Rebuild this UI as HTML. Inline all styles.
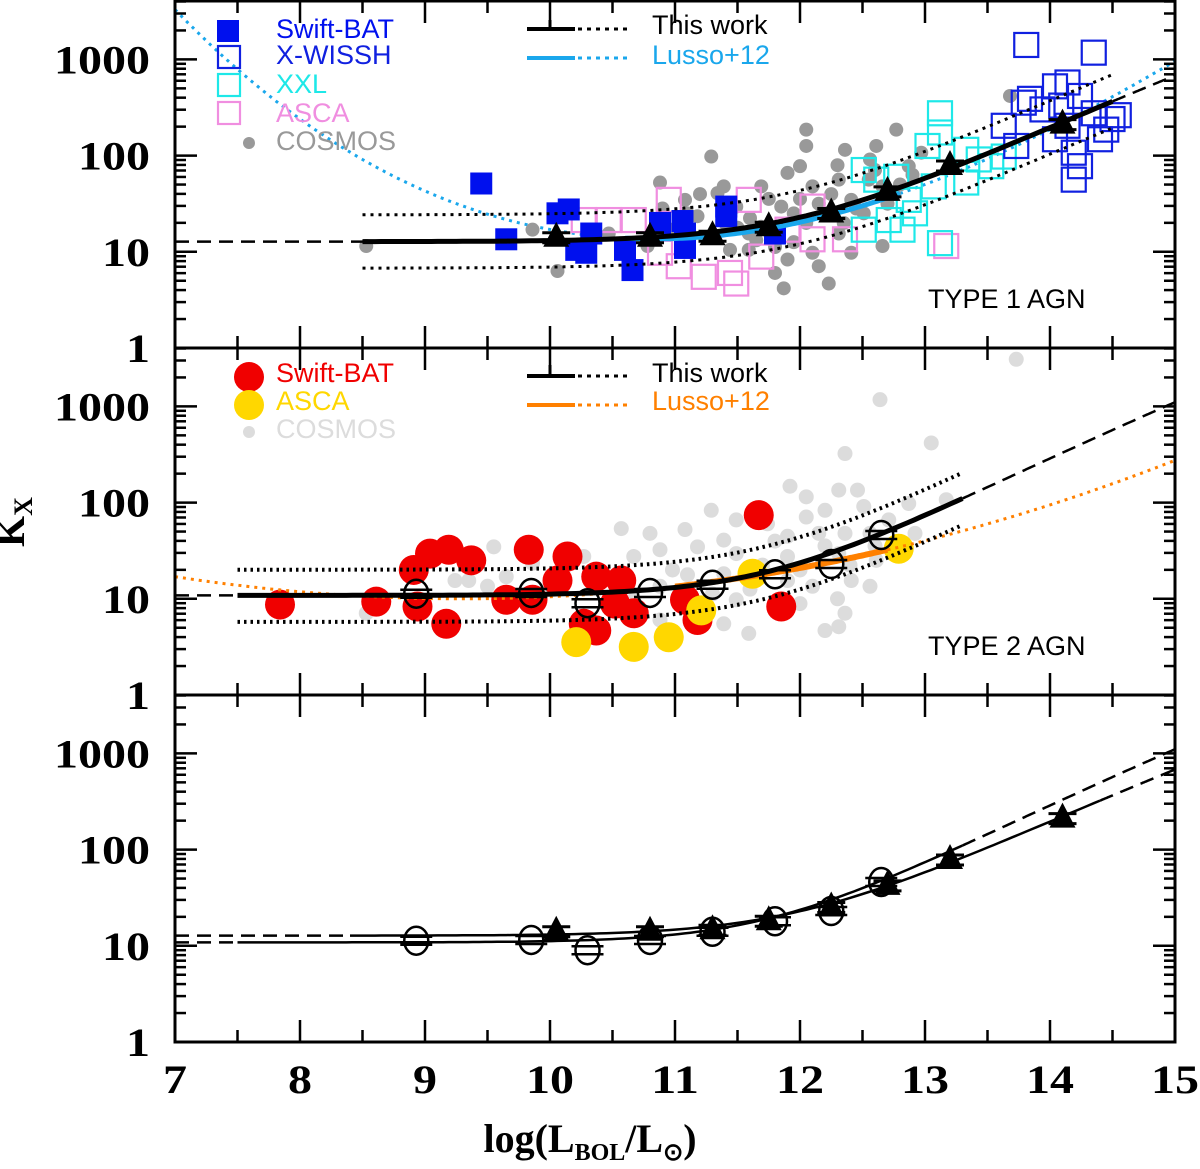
<!DOCTYPE html>
<html><head><meta charset="utf-8"><style>
html,body{margin:0;padding:0;background:#fff;}
svg{display:block;}
.tk{font-family:"Liberation Serif",serif;font-weight:bold;font-size:40px;fill:#000;}
.lg{font-family:"Liberation Sans",sans-serif;font-size:27px;}
</style></head><body>
<svg id="chart" width="1200" height="1169" viewBox="0 0 1200 1169" xmlns="http://www.w3.org/2000/svg">
<g id="layer"></g>
</svg>
<script>
// ---- data ----
const xTicks=[7,8,9,10,11,12,13,14,15];
const yTicks=[1,10,100,1000];
const yTickLabels=['1','10','100','1000'];
const fitT1=[12.76,12.15,18.78];
const fitT2=[10.85,11.90,19.93];
const lussoT1=[0.288,0.111,-0.007,1.308];
const lussoT2=[0.0437,0.000104];
const t1BatX=[9.45,9.65,10.06,10.15,10.21,10.29,10.33,10.60,10.66,10.88,11.06,11.08,11.41,11.41,11.80,11.08];
const t1BatY=[1.71,1.13,1.40,1.44,1.02,0.99,1.19,1.02,0.81,1.30,1.32,1.19,1.47,1.37,1.19,1.04];
const wisshX=[13.81,14.35,13.79,14.04,14.14,14.24,13.94,14.35,14.50,14.45,14.14,14.04,14.19,14.24,14.19,13.73,13.63,13.84,14.55,14.40,14.09];
const wisshY=[3.15,3.07,2.55,2.72,2.76,2.62,2.48,2.44,2.38,2.27,2.31,2.17,2.03,1.89,1.75,2.10,2.31,2.59,2.42,2.17,2.52];
const xxlX=[13.12,13.12,13.02,13.33,13.43,13.53,13.63,12.51,12.61,12.77,12.87,12.92,12.71,12.82,13.12,12.51,13.07,13.33];
const xxlY=[2.44,2.24,2.10,2.06,1.96,1.89,1.99,1.85,1.75,1.78,1.54,1.40,1.33,1.23,1.09,1.23,1.68,1.72];
const ascaX=[10.27,10.47,10.67,10.95,10.88,11.03,11.23,11.44,11.59,11.69,11.90,12.10,12.10,12.36,13.17,11.49];
const ascaY=[1.33,1.33,1.33,1.54,0.99,0.85,0.74,0.78,1.54,0.95,1.23,1.47,1.13,1.13,1.06,0.67];
const cos1X=[8.53,10.06,9.86,10.88,11.29,11.39,12.05,12.05,12.77,12.36,13.68,11.87,12.23,12.15,11.59,11.85,11.69,12.10,12.31,12.41,12.56,12.66,12.61,11.90,11.49,11.08,11.18,11.59,11.90,12.31,12.51,12.87,10.47,10.78,10.98,12.10,12.41,12.66,12.00,11.69,11.34,12.97,12.20,11.80,11.44,
 11.6,11.75,11.95,12.05,12.25,12.45,12.6,12.75,12.15,11.5,11.3,11.1,12.35,12.55,12.8,11.95,11.8,12.0,12.3,12.7,11.4,11.65,12.9,10.9,11.2];
const cos1Y=[1.06,0.80,1.23,1.72,1.99,1.68,2.27,2.10,2.27,2.06,2.62,0.62,0.67,0.85,1.02,1.47,1.26,1.68,1.75,1.54,1.96,1.68,2.10,1.82,1.47,1.54,1.37,1.19,0.92,1.19,1.40,1.89,1.19,1.06,1.23,0.99,0.99,1.06,1.89,1.68,1.61,2.03,1.40,0.78,1.02,
 1.35,1.55,1.40,1.30,1.60,1.45,1.85,1.60,1.50,1.25,1.15,1.40,1.30,1.75,1.70,1.10,1.05,1.55,1.90,1.50,1.30,1.12,1.80,1.45,1.60];
const t2BatX=[7.84,8.61,8.91,9.04,9.19,9.37,9.17,8.94,9.83,10.14,9.86,9.65,10.06,10.37,10.57,10.27,10.37,10.67,11.18,11.67,11.85,11.08,10.52];
const t2BatY=[0.94,0.97,1.30,1.47,1.51,1.40,0.74,0.92,1.51,1.44,0.99,0.99,1.19,1.23,1.19,0.74,0.67,0.85,0.78,1.87,0.92,0.99,0.95];
const asca2X=[10.21,10.67,10.95,11.21,11.62,12.79];
const asca2Y=[0.55,0.50,0.60,0.88,1.26,1.52];
const cos2X=[13.73,12.64,13.05,12.36,11.92,12.05,12.31,12.46,12.51,12.05,12.20,11.29,11.49,11.74,10.57,10.80,11.08,11.39,11.90,12.15,12.36,12.71,12.87,13.17,10.88,11.18,11.49,11.90,12.31,12.61,12.41,12.56,12.10,11.90,11.39,10.98,10.67,10.27,9.86,9.55,9.35,9.24,9.65,10.01,10.88,11.49,12.00,12.36,12.31,12.20,11.59,11.39,10.88,10.67,8.53,9.50,12.56,12.92,
 11.7,12.0,12.2,12.4,11.6,11.8,12.6,12.3,11.1,11.3];
const cos2Y=[3.49,3.07,2.62,2.51,2.17,2.06,2.13,2.13,1.96,1.85,1.92,1.92,1.82,1.78,1.73,1.68,1.72,1.61,1.65,1.68,1.68,1.82,1.99,2.03,1.51,1.54,1.47,1.44,1.47,1.40,1.19,1.13,1.13,1.19,1.26,1.30,1.44,1.44,1.37,1.54,1.19,1.19,1.23,1.13,1.13,0.99,0.95,0.85,0.71,0.67,0.64,0.74,0.78,0.99,0.85,1.13,1.68,1.68,
 1.35,1.30,1.55,1.35,1.10,1.60,1.55,1.00,1.25,1.05];
const binT1X=[10.05,10.8,11.3,11.75,12.25,12.7,13.2,14.1];
const binT1Y=[14,14,14.5,18,25,42,78,210];
const binT2X=[8.93,9.85,10.3,10.8,11.3,11.8,12.25,12.65];
const binT2Y=[11.3,11.5,9,11.5,14,18,23,46];

const NS='http://www.w3.org/2000/svg';
const layer=document.getElementById('layer');
const X0=175,X1=1175,DEC=96.2;
const panels=[{top:1,bot:348},{top:348,bot:695},{top:695,bot:1042}];
function sx(v){return X0+(v-7)*(X1-X0)/8;}
function syL(p,l){return panels[p].bot-l*DEC;}
function sy(p,k){return syL(p,Math.log10(k));}
function mk(tag,attrs,parent){const e=document.createElementNS(NS,tag);for(const k in attrs)e.setAttribute(k,attrs[k]);(parent||layer).appendChild(e);return e;}
function fitF(f,x){return f[0]*(1+Math.pow(x/f[1],f[2]));}
function lus1(x){const L=x-12;return Math.pow(10,lussoT1[0]*L+lussoT1[1]*L*L+lussoT1[2]*L*L*L+lussoT1[3]);}
function lus2(x){const d=x-9.3;return Math.pow(10,1+lussoT2[0]*d*d+lussoT2[1]*d*d*d);}
function path(p,fn,a,b){let s='';for(let i=0;i<=120;i++){const x=a+(b-a)*i/120;let y=sy(p,fn(x));y=Math.max(y,panels[p].top);s+=(i?'L':'M')+sx(x).toFixed(1)+' '+y.toFixed(1);}return s;}
function clipG(p){const id='clip'+p;const d=mk('clipPath',{id:id});mk('rect',{x:X0,y:panels[p].top,width:X1-X0,height:panels[p].bot-panels[p].top},d);const g=mk('g',{'clip-path':'url(#'+id+')'});return g;}
function line(g,p,fn,a,b,st,name){const e=mk('path',Object.assign({d:path(p,fn,a,b),fill:'none'},st),g);return e;}

function scatter(g,p,xs,ys,kind,color,size,name){
  for(let i=0;i<xs.length;i++){
    const cx=sx(xs[i]),cy=syL(p,ys[i]);let e;
    if(kind==='fsq') e=mk('rect',{x:cx-size/2,y:cy-size/2,width:size,height:size,fill:color},g);
    else if(kind==='osq') e=mk('rect',{x:cx-size/2,y:cy-size/2,width:size,height:size,fill:'none',stroke:color,'stroke-width':2.2},g);
    else e=mk('circle',{cx:cx,cy:cy,r:size/2,fill:color},g);
    
    
  }
}
function tri(g,p,x,k,name){const cx=sx(x),cy=sy(p,k);
  mk('line',{x1:cx-14,x2:cx+14,y1:cy-5,y2:cy-5,stroke:'#000','stroke-width':3},g);
  mk('line',{x1:cx-14,x2:cx+14,y1:cy+5,y2:cy+5,stroke:'#000','stroke-width':3},g);
  const e=mk('polygon',{points:(cx-13)+','+(cy+9)+' '+(cx+13)+','+(cy+9)+' '+cx+','+(cy-16),fill:'#000'},g);
  }
function circ(g,p,x,k,name){const cx=sx(x),cy=sy(p,k);
  mk('line',{x1:cx-16,x2:cx+16,y1:cy-4,y2:cy-4,stroke:'#000','stroke-width':2.5},g);
  mk('line',{x1:cx-16,x2:cx+16,y1:cy+4,y2:cy+4,stroke:'#000','stroke-width':2.5},g);
  const e=mk('ellipse',{cx:cx,cy:cy,rx:12,ry:14,fill:'none',stroke:'#000','stroke-width':2.5},g);
  }

let g=clipG(0);
line(g,0,lus1,7,10.6,{stroke:'#1aa7ec','stroke-width':3,'stroke-dasharray':'3 5'},'lusso12-type1-dotted');
line(g,0,lus1,12.8,15,{stroke:'#1aa7ec','stroke-width':3,'stroke-dasharray':'3 5'},'lusso12-type1-dotted-high');
scatter(g,0,cos1X,cos1Y,'dot','#999',14,'cosmos-type1-point');
scatter(g,0,ascaX,ascaY,'osq','#f08ee0',24,'asca-type1-point');
scatter(g,0,xxlX,xxlY,'osq','#1ee8e8',24,'xxl-point');
scatter(g,0,t1BatX,t1BatY,'fsq','#0010ee',22,'swift-bat-type1-point');
scatter(g,0,wisshX,wisshY,'osq','#1020e0',24,'x-wissh-point');
line(g,0,lus1,10.6,12.8,{stroke:'#1aa7ec','stroke-width':5},'lusso12-type1-solid');
line(g,0,x=>fitF(fitT1,x)*1.9,8.5,14.5,{stroke:'#000','stroke-width':3,'stroke-dasharray':'3 5'},'type1-upper-band');
line(g,0,x=>fitF(fitT1,x)*0.53,8.5,14.5,{stroke:'#000','stroke-width':3,'stroke-dasharray':'3 5'},'type1-lower-band');
line(g,0,x=>fitF(fitT1,x),7,8.5,{stroke:'#000','stroke-width':2.5,'stroke-dasharray':'14 8'},'type1-fit-dashed-low');
line(g,0,x=>fitF(fitT1,x),14.5,15,{stroke:'#000','stroke-width':2.5,'stroke-dasharray':'14 8'},'type1-fit-dashed-high');
line(g,0,x=>fitF(fitT1,x),8.5,14.5,{stroke:'#000','stroke-width':5},'type1-fit-solid');
for(let i=0;i<binT1X.length;i++) tri(g,0,binT1X[i],binT1Y[i],'type1-bin-triangle');

g=clipG(1);
scatter(g,1,cos2X,cos2Y,'dot','#dcdcdc',15,'cosmos-type2-point');
scatter(g,1,t2BatX,t2BatY,'dot','#f00000',30,'swift-bat-type2-point');
scatter(g,1,asca2X,asca2Y,'dot','#ffd700',30,'asca-type2-point');
line(g,1,lus2,7,11,{stroke:'#ff8000','stroke-width':3,'stroke-dasharray':'3 5'},'lusso12-type2-dotted');
line(g,1,lus2,12.7,15,{stroke:'#ff8000','stroke-width':3,'stroke-dasharray':'3 5'},'lusso12-type2-dotted-high');
line(g,1,lus2,11,12.7,{stroke:'#ff8000','stroke-width':6},'lusso12-type2-solid');
line(g,1,x=>fitF(fitT2,x)*1.85,7.5,13.3,{stroke:'#000','stroke-width':4,'stroke-dasharray':'2.5 4'},'type2-upper-band');
line(g,1,x=>fitF(fitT2,x)*0.53,7.5,13.3,{stroke:'#000','stroke-width':4,'stroke-dasharray':'2.5 4'},'type2-lower-band');
line(g,1,x=>fitF(fitT2,x),7,7.5,{stroke:'#000','stroke-width':2.5,'stroke-dasharray':'14 8'},'type2-fit-dashed-low');
line(g,1,x=>fitF(fitT2,x),13.3,15,{stroke:'#000','stroke-width':2.5,'stroke-dasharray':'14 8'},'type2-fit-dashed-high');
line(g,1,x=>fitF(fitT2,x),7.5,13.3,{stroke:'#000','stroke-width':5},'type2-fit-solid');
for(let i=0;i<binT2X.length;i++) circ(g,1,binT2X[i],binT2Y[i],'type2-bin-circle');

g=clipG(2);
line(g,2,x=>fitF(fitT1,x),7,8.4,{stroke:'#000','stroke-width':2.5,'stroke-dasharray':'14 8'},'cmp-type1-dashed-low');
line(g,2,x=>fitF(fitT1,x),8.4,14.4,{stroke:'#000','stroke-width':2.5},'cmp-type1-solid');
line(g,2,x=>fitF(fitT1,x),14.4,15,{stroke:'#000','stroke-width':2.5,'stroke-dasharray':'14 8'},'cmp-type1-dashed-high');
line(g,2,x=>fitF(fitT2,x),7,7.5,{stroke:'#000','stroke-width':2.5,'stroke-dasharray':'14 8'},'cmp-type2-dashed-low');
line(g,2,x=>fitF(fitT2,x),7.5,13.3,{stroke:'#000','stroke-width':2.5},'cmp-type2-solid');
line(g,2,x=>fitF(fitT2,x),13.3,15,{stroke:'#000','stroke-width':2.5,'stroke-dasharray':'14 8'},'cmp-type2-dashed-high');
for(let i=0;i<binT2X.length;i++) circ(g,2,binT2X[i],binT2Y[i],'cmp-type2-circle');
for(let i=0;i<binT1X.length;i++) tri(g,2,binT1X[i],binT1Y[i],'cmp-type1-triangle');

panels.forEach((P,pi)=>{
  const fr=mk('rect',{x:X0,y:P.top,width:X1-X0,height:P.bot-P.top,fill:'none',stroke:'#000','stroke-width':3});
  
  
  for(let v=7;v<=15;v+=0.5){const L=(v%1===0)?22:12;const x=sx(v);
    mk('line',{x1:x,x2:x,y1:P.bot,y2:P.bot-L,stroke:'#000','stroke-width':2.5});
    mk('line',{x1:x,x2:x,y1:P.top,y2:P.top+L,stroke:'#000','stroke-width':2.5});}
  const maxL=(P.bot-P.top)/DEC;
  for(let d=0;d<4;d++){for(let m=1;m<=9;m++){const l=d+Math.log10(m);if(l>maxL)continue;const y=syL(pi,l);const L=m===1?22:11;
    if(m===1&&d===0)continue;
    mk('line',{x1:X0,x2:X0+L,y1:y,y2:y,stroke:'#000','stroke-width':2.5});
    mk('line',{x1:X1,x2:X1-L,y1:y,y2:y,stroke:'#000','stroke-width':2.5});}}
  yTicks.forEach((t,i)=>{const lab=yTickLabels[i];const e=mk('text',{x:150,y:sy(pi,t)+14,'text-anchor':'end',class:'tk',textLength:lab.length*24,lengthAdjust:'spacingAndGlyphs'});e.textContent=lab;
    });
});
xTicks.forEach(t=>{const s=String(t);const e=mk('text',{x:sx(t),y:1093,'text-anchor':'middle',class:'tk',textLength:s.length*24,lengthAdjust:'spacingAndGlyphs'});e.textContent=s;
  });
</script>
<div style="position:absolute;left:0;top:0;width:1200px;height:1169px;pointer-events:none">
<svg width="1200" height="1169" xmlns="http://www.w3.org/2000/svg">
  <text x="24" y="522" transform="rotate(-90 24 522)" text-anchor="middle" style="font-family:'Liberation Serif',serif;font-weight:bold;font-size:40px">K<tspan font-size="26" dy="8">X</tspan></text>
  <text x="590" y="1152" text-anchor="middle" style="font-family:'Liberation Serif',serif;font-weight:bold;font-size:40px">log(L<tspan font-size="24" dy="8">BOL</tspan><tspan dy="-8">/L</tspan><tspan font-size="24" dy="8">⊙</tspan><tspan dy="-8">)</tspan></text>
  <g class="lg">
    <rect x="217" y="20" width="22" height="22" fill="#0010ee"/><text x="276" y="38" fill="#0010ee">Swift-BAT</text>
    <rect x="218" y="46" width="22" height="22" fill="none" stroke="#1020e0" stroke-width="2.2"/><text x="276" y="64" fill="#1020e0">X-WISSH</text>
    <rect x="218" y="74" width="22" height="22" fill="none" stroke="#1ee8e8" stroke-width="2.2"/><text x="276" y="93" fill="#1ee8e8">XXL</text>
    <rect x="218" y="102" width="22" height="22" fill="none" stroke="#f08ee0" stroke-width="2.2"/><text x="276" y="122" fill="#f08ee0">ASCA</text>
    <circle cx="249" cy="143" r="6" fill="#999"/><text x="276" y="150" fill="#999">COSMOS</text>
    <line x1="527" x2="575" y1="29" y2="29" stroke="#000" stroke-width="4"/><line x1="578" x2="627" y1="29" y2="29" stroke="#000" stroke-width="3" stroke-dasharray="4 5"/>
    <line x1="550" x2="550" y1="20" y2="29" stroke="#000" stroke-width="3"/>
    <text x="652" y="34" fill="#000">This work</text>
    <line x1="527" x2="575" y1="58" y2="58" stroke="#1aa7ec" stroke-width="4"/><line x1="578" x2="627" y1="58" y2="58" stroke="#1aa7ec" stroke-width="3" stroke-dasharray="4 5"/>
    <text x="652" y="64" fill="#1aa7ec">Lusso+12</text>
    <text x="928" y="308" fill="#000">TYPE 1 AGN</text>
  </g>
  <g class="lg">
    <circle cx="249" cy="377" r="15" fill="#f00000"/><text x="276" y="382" fill="#f00000">Swift-BAT</text>
    <circle cx="249" cy="405" r="15" fill="#ffd700"/><text x="276" y="410" fill="#ffd700">ASCA</text>
    <circle cx="249" cy="432" r="6" fill="#dcdcdc"/><text x="276" y="438" fill="#dcdcdc">COSMOS</text>
    <line x1="527" x2="575" y1="376" y2="376" stroke="#000" stroke-width="4"/><line x1="578" x2="627" y1="376" y2="376" stroke="#000" stroke-width="3" stroke-dasharray="4 5"/>
    <line x1="550" x2="550" y1="365" y2="376" stroke="#000" stroke-width="3"/>
    <text x="652" y="382" fill="#000">This work</text>
    <line x1="527" x2="575" y1="405" y2="405" stroke="#ff8000" stroke-width="4"/><line x1="578" x2="627" y1="405" y2="405" stroke="#ff8000" stroke-width="3" stroke-dasharray="4 5"/>
    <text x="652" y="410" fill="#ff8000">Lusso+12</text>
    <text x="928" y="655" fill="#000">TYPE 2 AGN</text>
  </g>
</svg></div>
</body></html>
